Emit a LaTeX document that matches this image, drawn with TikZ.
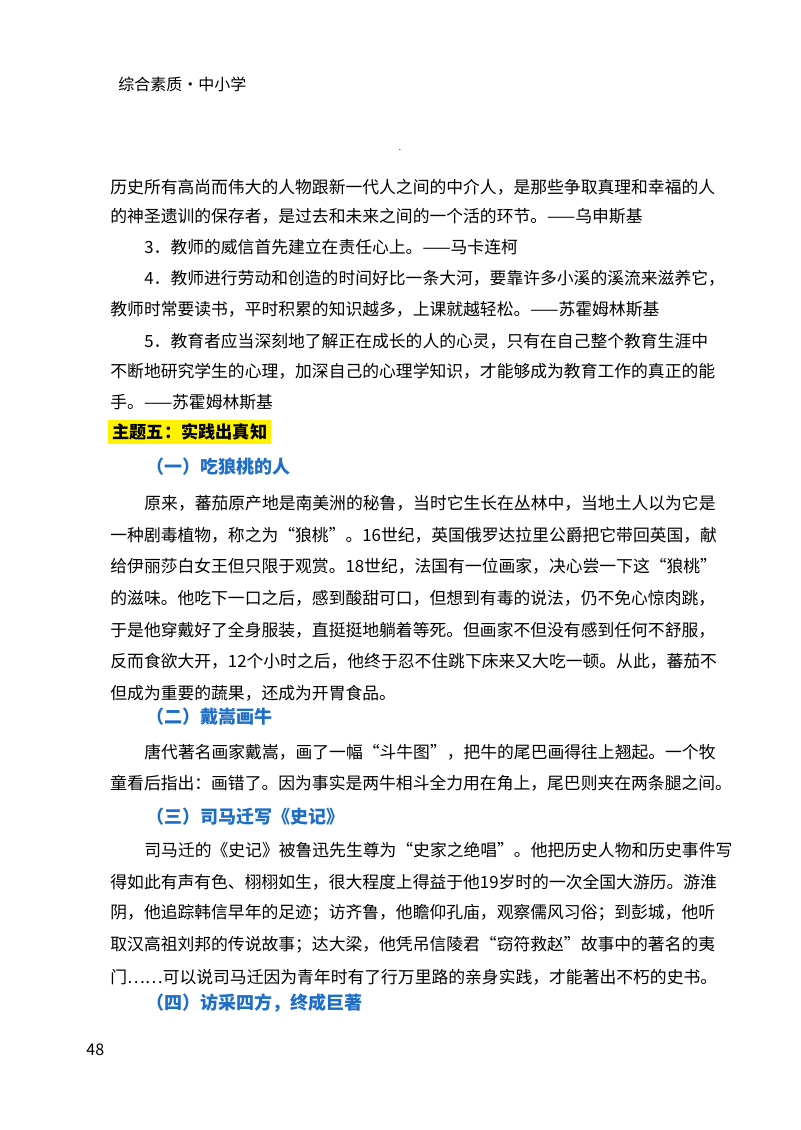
\documentclass[tikz,border=0pt]{standalone}
\usepackage{fontspec}
\setmainfont{Noto Sans CJK SC}
\newfontfamily\cjk{Noto Sans CJK SC}
\definecolor{headblue}{RGB}{30,110,200}
\begin{document}
\begin{tikzpicture}[x=0.5pt,y=-0.5pt]
		\tikzset{line/.style={anchor=west,inner sep=0pt,font=\cjk\fontsize{8.4pt}{10pt}\selectfont},
		head/.style={anchor=west,inner sep=0pt,text=headblue,font=\cjk\bfseries\fontsize{9pt}{10pt}\selectfont}}
		\useasboundingbox (0,0) rectangle (800,1130);
		
		\node[line,font=\cjk\fontsize{8pt}{10pt}\selectfont] (hdr) at (118,84) {综合素质·中小学};
		\node[inner sep=0pt,font=\fontsize{4pt}{4pt}\selectfont] (dot) at (400,150) {.};
		
		\node[line] (a1) at (110,187) {历史所有高尚而伟大的人物跟新一代人之间的中介人，是那些争取真理和幸福的人};
		\node[line] (a2) at (110,216) {的神圣遗训的保存者，是过去和未来之间的一个活的环节。——乌申斯基};
		\node[line] (a3) at (144,247) {3．教师的威信首先建立在责任心上。——马卡连柯};
		\node[line] (a4) at (144,278) {4．教师进行劳动和创造的时间好比一条大河，要靠许多小溪的溪流来滋养它，};
		\node[line] (a5) at (110,309) {教师时常要读书，平时积累的知识越多，上课就越轻松。——苏霍姆林斯基};
		\node[line] (a6) at (144,341) {5．教育者应当深刻地了解正在成长的人的心灵，只有在自己整个教育生涯中};
		\node[line] (a7) at (110,371) {不断地研究学生的心理，加深自己的心理学知识，才能够成为教育工作的真正的能};
		\node[line] (a8) at (110,402) {手。——苏霍姆林斯基};
		
		\node[line,fill=yellow,inner sep=2pt,font=\cjk\bfseries\fontsize{8.6pt}{10pt}\selectfont] (t5) at (108,432) {主题五：实践出真知};
		
		\node[head] (h1) at (146,467) {（一）吃狼桃的人};
		\node[line] (b1) at (144,503) {原来，蕃茄原产地是南美洲的秘鲁，当时它生长在丛林中，当地土人以为它是};
		\node[line] (b2) at (110,535) {一种剧毒植物，称之为“狼桃”。16世纪，英国俄罗达拉里公爵把它带回英国，献};
		\node[line] (b3) at (110,566) {给伊丽莎白女王但只限于观赏。18世纪，法国有一位画家，决心尝一下这“狼桃”};
		\node[line] (b4) at (110,598) {的滋味。他吃下一口之后，感到酸甜可口，但想到有毒的说法，仍不免心惊肉跳，};
		\node[line] (b5) at (110,630) {于是他穿戴好了全身服装，直挺挺地躺着等死。但画家不但没有感到任何不舒服，};
		\node[line] (b6) at (110,661) {反而食欲大开，12个小时之后，他终于忍不住跳下床来又大吃一顿。从此，蕃茄不};
		\node[line] (b7) at (110,693) {但成为重要的蔬果，还成为开胃食品。};
		
		\node[head] (h2) at (146,717) {（二）戴嵩画牛};
		\node[line] (c1) at (144,752) {唐代著名画家戴嵩，画了一幅“斗牛图”，把牛的尾巴画得往上翘起。一个牧};
		\node[line] (c2) at (110,783) {童看后指出：画错了。因为事实是两牛相斗全力用在角上，尾巴则夹在两条腿之间。};
		
		\node[head] (h3) at (146,817) {（三）司马迁写《史记》};
		\node[line] (d1) at (144,850) {司马迁的《史记》被鲁迅先生尊为“史家之绝唱”。他把历史人物和历史事件写};
		\node[line] (d2) at (110,882) {得如此有声有色、栩栩如生，很大程度上得益于他19岁时的一次全国大游历。游淮};
		\node[line] (d3) at (110,913) {阴，他追踪韩信早年的足迹；访齐鲁，他瞻仰孔庙，观察儒风习俗；到彭城，他听};
		\node[line] (d4) at (110,945) {取汉高祖刘邦的传说故事；达大梁，他凭吊信陵君“窃符救赵”故事中的著名的夷};
		\node[line] (d5) at (110,977) {门……可以说司马迁因为青年时有了行万里路的亲身实践，才能著出不朽的史书。};
		
		\node[head] (h4) at (146,1003) {（四）访采四方，终成巨著};
		\node[line,font=\fontsize{8pt}{10pt}\selectfont] (pg) at (86,1050) {48};
	\end{tikzpicture}
\end{document}
